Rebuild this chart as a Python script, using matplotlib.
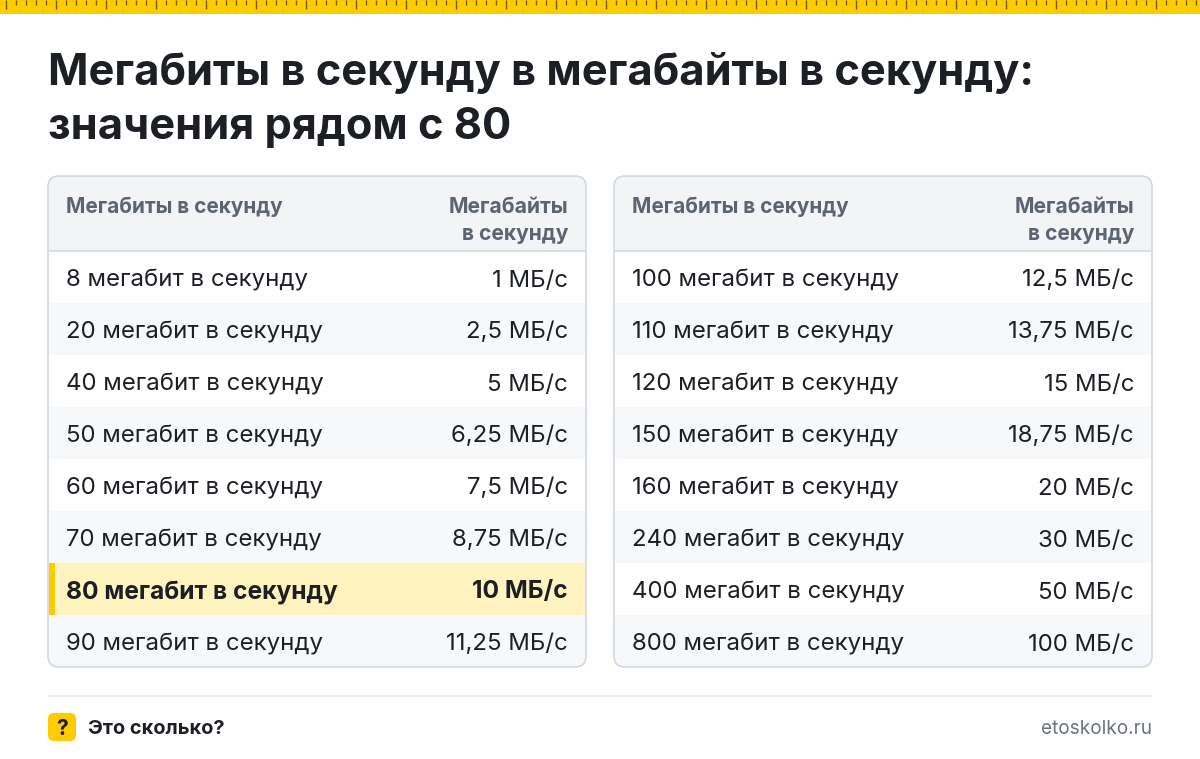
import numpy as np
import matplotlib
matplotlib.use("Agg")
import matplotlib.pyplot as plt
from matplotlib.patches import FancyBboxPatch, Rectangle

plt.rcParams['font.family'] = ['Inter', 'DejaVu Sans']

title_lines = ["Мегабиты в секунду в мегабайты в секунду:", "значения рядом с 80"]
head_left = "Мегабиты в секунду"
head_right = ["Мегабайты", "в секунду"]
mbit_left = [8, 20, 40, 50, 60, 70, 80, 90]
mbyte_left = ["1", "2,5", "5", "6,25", "7,5", "8,75", "10", "11,25"]
mbit_right = [100, 110, 120, 150, 160, 240, 400, 800]
mbyte_right = ["12,5", "13,75", "15", "18,75", "20", "30", "50", "100"]
highlight = 80

INK = "#1c1f24"
GREY = "#5b6470"
YELLOW = "#ffcc00"
BORDER = "#d3d8e0"
STRIPE = "#f7f8fa"
HEAD = "#f3f4f6"
PALE = "#fff3bf"
PX = 0.72  # px -> pt at dpi 100


def draw_table(ax, x0, x1, mbits, mbytes):
    y0, y1 = 176, 667
    top = 251
    row_h = (y1 - top) / len(mbits)
    frame = FancyBboxPatch((x0, y0), x1 - x0, y1 - y0, boxstyle="round,pad=0,rounding_size=11",
                           fc="white", ec="none", zorder=1)
    ax.add_patch(frame)

    head = Rectangle((x0, y0), x1 - x0, top - y0, fc=HEAD, ec="none", zorder=2)
    ax.add_patch(head)
    head.set_clip_path(frame)

    for i, (mbit, mbyte) in enumerate(zip(mbits, mbytes)):
        y = top + i * row_h
        on = mbit == highlight
        color = PALE if on else (STRIPE if i % 2 else "white")
        row = Rectangle((x0, y), x1 - x0, row_h, fc=color, ec="none", zorder=2)
        ax.add_patch(row)
        row.set_clip_path(frame)
        if on:
            ax.add_patch(Rectangle((x0 + 1, y), 6, row_h, fc=YELLOW, ec="none", zorder=3))
        weight = "bold" if on else "normal"
        size = 24.6 if on else 24
        ty = y + row_h / 2 + (0 if on else 1)
        ax.text(x0 + 18, ty, f"{mbit} мегабит в секунду", fontsize=size * PX,
                fontweight=weight, color=INK, va="center_baseline", zorder=4)
        ax.text(x1 - 18, ty, f"{mbyte} МБ/с", fontsize=size * PX,
                fontweight=weight, color=INK, va="center_baseline", ha="right", zorder=4)

    ax.plot([x0, x1], [top, top], color=BORDER, lw=1.2, solid_capstyle="butt", zorder=5)
    ax.add_patch(FancyBboxPatch((x0, y0), x1 - x0, y1 - y0, boxstyle="round,pad=0,rounding_size=11",
                                fc="none", ec=BORDER, lw=1.2, zorder=6))

    ax.text(x0 + 18, 205, head_left, fontsize=20.8 * PX, fontweight="bold", color=GREY,
            va="center_baseline", zorder=4)
    ax.text(x1 - 18, 205, head_right[0], fontsize=21 * PX, fontweight="bold", color=GREY,
            va="center_baseline", ha="right", zorder=4)
    ax.text(x1 - 18, 232, head_right[1], fontsize=21 * PX, fontweight="bold", color=GREY,
            va="center_baseline", ha="right", zorder=4)


def main():
    fig = plt.figure(figsize=(12, 7.59), dpi=100)
    ax = fig.add_axes([0, 0, 1, 1])
    ax.set_xlim(0, 1200)
    ax.set_ylim(759, 0)
    ax.axis("off")

    # ruler strip
    ax.add_patch(Rectangle((0, 0), 1200, 14, fc=YELLOW, ec="none"))
    for n, x in enumerate(np.arange(5.7, 1200, 10)):
        h = 9 if n % 5 == 0 else 5
        ax.plot([x, x], [0, h], color="#6e5c1c", lw=1.0, solid_capstyle="butt")

    ax.text(48, 68, title_lines[0], fontsize=43.4 * PX, fontweight="bold", color=INK, va="center_baseline")
    ax.text(48, 123, title_lines[1], fontsize=43.4 * PX, fontweight="bold", color=INK, va="center_baseline")

    draw_table(ax, 48, 586, mbit_left, mbyte_left)
    draw_table(ax, 614, 1152, mbit_right, mbyte_right)

    # footer
    ax.plot([48, 1152], [695.5, 695.5], color="#e6e8ec", lw=1.2, solid_capstyle="butt")
    ax.add_patch(FancyBboxPatch((48, 713), 28, 28, boxstyle="round,pad=0,rounding_size=6", fc=YELLOW, ec="none"))
    ax.text(62, 727, "?", fontsize=21 * PX, fontweight="bold", color=INK, ha="center", va="center_baseline")
    ax.text(88, 727, "Это сколько?", fontsize=20 * PX, fontweight="bold", color=INK, va="center_baseline")
    ax.text(1152, 727, "etoskolko.ru", fontsize=19 * PX, color="#6b7280", ha="right", va="center_baseline")

    fig.savefig("out.png", dpi=100)


if __name__ == '__main__':
    main()
